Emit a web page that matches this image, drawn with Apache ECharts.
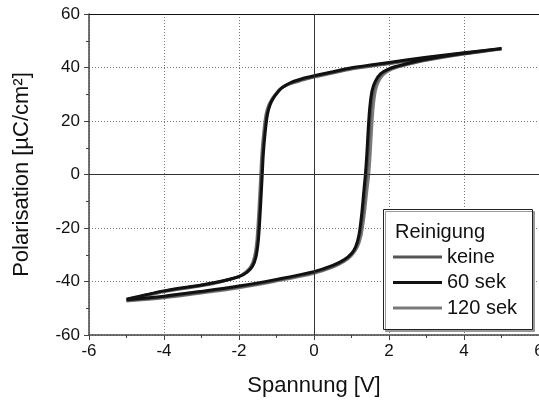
<!DOCTYPE html>
<html><head><meta charset="utf-8">
<script src="https://cdn.jsdelivr.net/npm/echarts@6/dist/echarts.min.js"></script>
<style>html,body{margin:0;padding:0;background:#fff}#c{width:539px;height:400px}</style>
</head><body><div id="c"></div>
<script>
// Voltage (V) / polarisation (µC/cm²) along each loop: ascending branch, then descending branch
var keineV = [-5,-4,-3,-2,-1,0,0.5,0.8,1.0,1.13,1.22,1.3,1.36,1.4,1.44,1.48,1.52,1.58,1.67,1.8,2.0,2.3,2.6,3.0,4.0,5.0,
              4.0,3.0,2.0,1.0,0.5,0,-0.3,-0.65,-0.88,-1.0,-1.1,-1.19,-1.26,-1.32,-1.37,-1.4,-1.43,-1.47,-1.51,-1.57,-1.66,-1.8,-2.03,-2.5,-3.0,-4.0,-5.0];
var keineP = [-47,-45.8,-44,-42,-39.5,-36.6,-34.3,-32.2,-29.8,-27,-22.5,-15,-6,0,8,18,25.5,31.5,35,37.6,39.3,40.6,41.7,42.9,45.1,47,
              45.3,43.6,41.6,39.6,38.1,36.6,35.6,34.0,32.2,30.3,28.4,26,22.5,16,8,0,-8,-18,-25.5,-31,-34.3,-36.5,-38.3,-40,-41.4,-43.6,-46.8];
var sek60V = [-5,-4,-3,-2,-1,0,0.5,0.8,1.0,1.11,1.2,1.27,1.33,1.37,1.41,1.45,1.49,1.55,1.64,1.78,2.0,2.3,2.6,3.0,4.0,5.0,
              4.0,3.0,2.0,1.0,0.5,0,-0.3,-0.63,-0.86,-0.98,-1.08,-1.17,-1.24,-1.3,-1.35,-1.38,-1.41,-1.45,-1.49,-1.55,-1.64,-1.78,-2.0,-2.5,-3.0,-4.0,-5.0];
var sek60P = [-46.8,-45.5,-43.7,-41.7,-39.2,-36.3,-34.0,-31.9,-29.5,-27,-22.5,-15,-6,0,8,18,25.5,31.5,35,37.7,39.5,40.8,41.9,43.1,45.3,47.1,
              45.5,43.8,41.9,39.9,38.4,36.9,35.9,34.3,32.4,30.5,28.6,26.1,22.5,16,8,0,-8,-18,-25.5,-31,-34.3,-36.5,-38.2,-40,-41.3,-43.5,-46.6];
var sek120V = [-5,-4,-3,-2,-1,0,0.5,0.8,1.0,1.16,1.26,1.34,1.41,1.46,1.5,1.54,1.58,1.64,1.73,1.86,2.05,2.3,2.6,3.0,4.0,5.0,
               4.0,3.0,2.0,1.0,0.5,0,-0.3,-0.66,-0.9,-1.02,-1.12,-1.21,-1.28,-1.34,-1.39,-1.42,-1.45,-1.49,-1.53,-1.59,-1.68,-1.82,-2.05,-2.5,-3.0,-4.0,-5.0];
var sek120P = [-47.3,-46.1,-44.3,-42.3,-39.8,-36.9,-34.6,-32.5,-30.3,-27,-22.5,-15,-6,0,8,18,25.5,31.5,35,37.5,39.2,40.4,41.5,42.7,45,46.9,
               45.2,43.4,41.4,39.4,37.9,36.4,35.3,33.8,32.0,30.1,28.2,25.9,22.5,16,8,0,-8,-18,-25.5,-31,-34.3,-36.5,-38.4,-40.2,-41.6,-43.8,-47.1];
var seriesNames = ['keine', '60 sek', '120 sek'];
var legendTitle = 'Reinigung';
var xName = 'Spannung [V]';
var yName = 'Polarisation [µC/cm²]';

function pairs(xs, ys) { return xs.map(function (v, i) { return [v, ys[i]]; }); }

var FONT = '"Liberation Sans", Arial, sans-serif';
var chart = echarts.init(document.getElementById('c'), null, {renderer: 'canvas'});
var axisCol = '#444';
var grid = {type: [1, 2], color: '#777', width: 1};

function lineSeries(name, xs, ys, color) {
  return {name: name, type: 'line', data: pairs(xs, ys), smooth: 0.3, showSymbol: false, symbol: 'none',
    lineStyle: {color: color, width: 3}, itemStyle: {color: color}, z: 3, animation: false};
}

chart.setOption({
  animation: false,
  textStyle: {fontFamily: FONT},
  grid: {left: 89, right: 0, top: 14, bottom: 65, outerBoundsMode: 'none', containLabel: false},
  xAxis: [{
    type: 'value', min: -6, max: 6, interval: 2, position: 'bottom',
    axisLine: {onZero: false, lineStyle: {color: axisCol, width: 1.5}},
    axisTick: {length: 5, lineStyle: {color: axisCol, width: 1}},
    minorTick: {show: true, splitNumber: 2, length: 3, lineStyle: {color: axisCol}},
    splitLine: {show: true, lineStyle: grid},
    axisLabel: {fontSize: 17, color: '#111', margin: 8, fontFamily: FONT},
    name: xName, nameLocation: 'middle', nameGap: 40,
    nameTextStyle: {fontSize: 22, color: '#111', fontFamily: FONT}
  }, {
    type: 'value', min: -6, max: 6, position: 'top',
    axisLine: {show: true, onZero: false, lineStyle: {color: '#111', width: 1.2}},
    axisTick: {show: false}, axisLabel: {show: false}, splitLine: {show: false}
  }],
  yAxis: [{
    type: 'value', min: -60, max: 60, interval: 20, position: 'left',
    axisLine: {show: true, onZero: false, lineStyle: {color: axisCol, width: 1.5}},
    axisTick: {show: true, length: 5, lineStyle: {color: axisCol, width: 1}},
    minorTick: {show: true, splitNumber: 2, length: 3, lineStyle: {color: axisCol}},
    splitLine: {show: true, lineStyle: grid},
    axisLabel: {fontSize: 17, color: '#111', margin: 9, fontFamily: FONT},
    name: yName, nameLocation: 'middle', nameGap: 56,
    nameTextStyle: {fontSize: 22, color: '#111', fontFamily: FONT}
  }, {
    type: 'value', min: -60, max: 60, position: 'right',
    axisLine: {show: true, onZero: false, lineStyle: {color: '#777', width: 1}},
    axisTick: {show: false}, axisLabel: {show: false}, splitLine: {show: false}
  }],
  legend: {
    data: seriesNames, orient: 'vertical', left: 393, top: 244.5,
    itemWidth: 49, itemHeight: 3, icon: 'rect', itemGap: 0.5, padding: 0, z: 20,
    textStyle: {fontSize: 20, lineHeight: 25, color: '#111', fontFamily: FONT}
  },
  graphic: [
    {type: 'rect', z: 15, shape: {x: 383.5, y: 209.5, width: 149, height: 120},
     style: {fill: '#fff', stroke: '#222', lineWidth: 1, shadowBlur: 0, shadowOffsetX: 2, shadowOffsetY: 2, shadowColor: '#999'}},
    {type: 'text', z: 20, x: 395, y: 232,
     style: {text: legendTitle, font: '20px ' + FONT, fill: '#111', textVerticalAlign: 'middle'}}
  ],
  series: [
    {name: '_zero', type: 'line', data: [], z: 1, silent: true,
     markLine: {silent: true, symbol: 'none', label: {show: false}, animation: false,
       lineStyle: {type: 'solid', color: '#333', width: 1},
       data: [{xAxis: 0}, {yAxis: 0}]}},
    lineSeries(seriesNames[2], sek120V, sek120P, '#7a7a7a'),
    lineSeries(seriesNames[0], keineV, keineP, '#555555'),
    lineSeries(seriesNames[1], sek60V, sek60P, '#111111')
  ]
});
</script>
</body></html>
